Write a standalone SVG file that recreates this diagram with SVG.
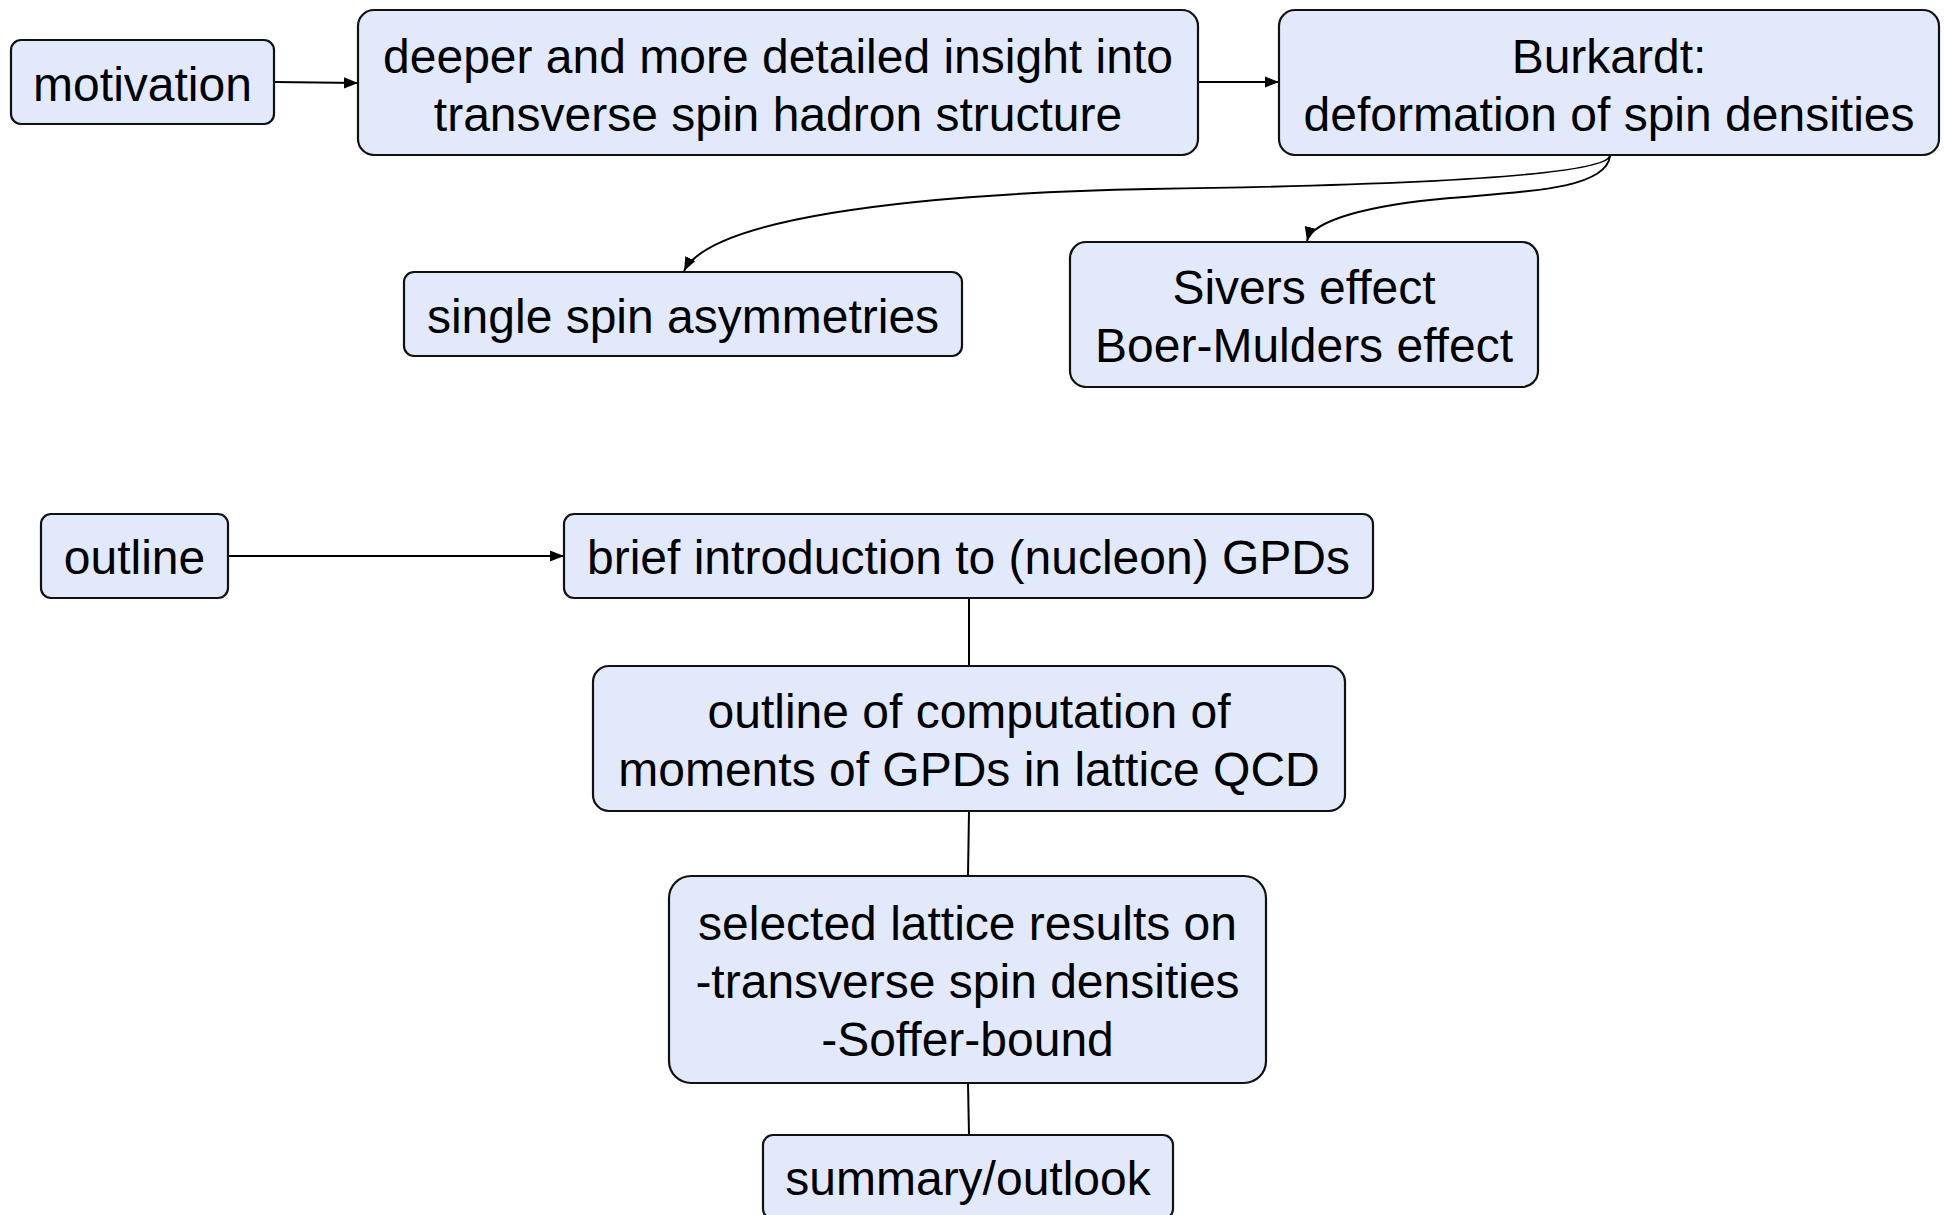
<svg xmlns="http://www.w3.org/2000/svg" width="1945" height="1215" viewBox="0 0 1945 1215">
  <style>
    .box { fill: #e1e9fb; stroke: #111; stroke-width: 2.2; }
    .lbl { font-family: "Liberation Sans", Arial, sans-serif; font-size: 48px; fill: #000; text-anchor: middle; }
    .edge { fill: none; stroke: #000; stroke-width: 2; }
  </style>
  <defs>
    <marker id="arrowS" viewBox="0 0 10 10" refX="10" refY="5" markerWidth="14" markerHeight="14" orient="auto" markerUnits="userSpaceOnUse">
      <path d="M0,1 L10,5 L0,9 z" fill="#000"/>
    </marker>
  </defs>

  <g id="connectors">
    <path class="edge" d="M275,82 L358,83" marker-end="url(#arrowS)"/>
    <path class="edge" d="M1198,82 L1279,82" marker-end="url(#arrowS)"/>
    <path class="edge" d="M1610,156 C1603,175 1420,185 1150,189 C900,194 710,220 684,271" marker-end="url(#arrowS)"/>
    <path class="edge" d="M1610,156 C1606,190 1520,192 1450,198 C1370,205 1312,220 1307,241" marker-end="url(#arrowS)"/>
    <path class="edge" d="M228,556 L564,556" marker-end="url(#arrowS)"/>
    <path class="edge" d="M969,598 L969,666"/>
    <path class="edge" d="M969,811 L968,876"/>
    <path class="edge" d="M968,1083 L969,1135"/>
  </g>

  <g id="motivation">
    <rect class="box" x="11" y="40" width="263" height="84" rx="10"/>
    <text class="lbl" x="142.5" y="101">motivation</text>
  </g>

  <g id="insight">
    <rect class="box" x="358" y="10" width="840" height="145" rx="16"/>
    <text class="lbl" x="778" y="73">deeper and more detailed insight into</text>
    <text class="lbl" x="778" y="131">transverse spin hadron structure</text>
  </g>

  <g id="burkardt">
    <rect class="box" x="1279" y="10" width="660" height="145" rx="16"/>
    <text class="lbl" x="1609" y="73">Burkardt:</text>
    <text class="lbl" x="1609" y="131">deformation of spin densities</text>
  </g>

  <g id="ssa">
    <rect class="box" x="404" y="272" width="558" height="84" rx="10"/>
    <text class="lbl" x="683" y="333">single spin asymmetries</text>
  </g>

  <g id="sivers">
    <rect class="box" x="1070" y="242" width="468" height="145" rx="16"/>
    <text class="lbl" x="1304" y="304">Sivers effect</text>
    <text class="lbl" x="1304" y="362">Boer-Mulders effect</text>
  </g>

  <g id="outline">
    <rect class="box" x="41" y="514" width="187" height="84" rx="10"/>
    <text class="lbl" x="134.5" y="574">outline</text>
  </g>

  <g id="gpds">
    <rect class="box" x="564" y="514" width="809" height="84" rx="10"/>
    <text class="lbl" x="968.5" y="574">brief introduction to (nucleon) GPDs</text>
  </g>

  <g id="computation">
    <rect class="box" x="593" y="666" width="752" height="145" rx="16"/>
    <text class="lbl" x="969" y="728">outline of computation of</text>
    <text class="lbl" x="969" y="786">moments of GPDs in lattice QCD</text>
  </g>

  <g id="results">
    <rect class="box" x="669" y="876" width="597" height="207" rx="22"/>
    <text class="lbl" x="967.5" y="940">selected lattice results on</text>
    <text class="lbl" x="967.5" y="998">-transverse spin densities</text>
    <text class="lbl" x="967.5" y="1056">-Soffer-bound</text>
  </g>

  <g id="summary">
    <rect class="box" x="763" y="1135" width="410" height="84" rx="10"/>
    <text class="lbl" x="968" y="1195">summary/outlook</text>
  </g>
</svg>
